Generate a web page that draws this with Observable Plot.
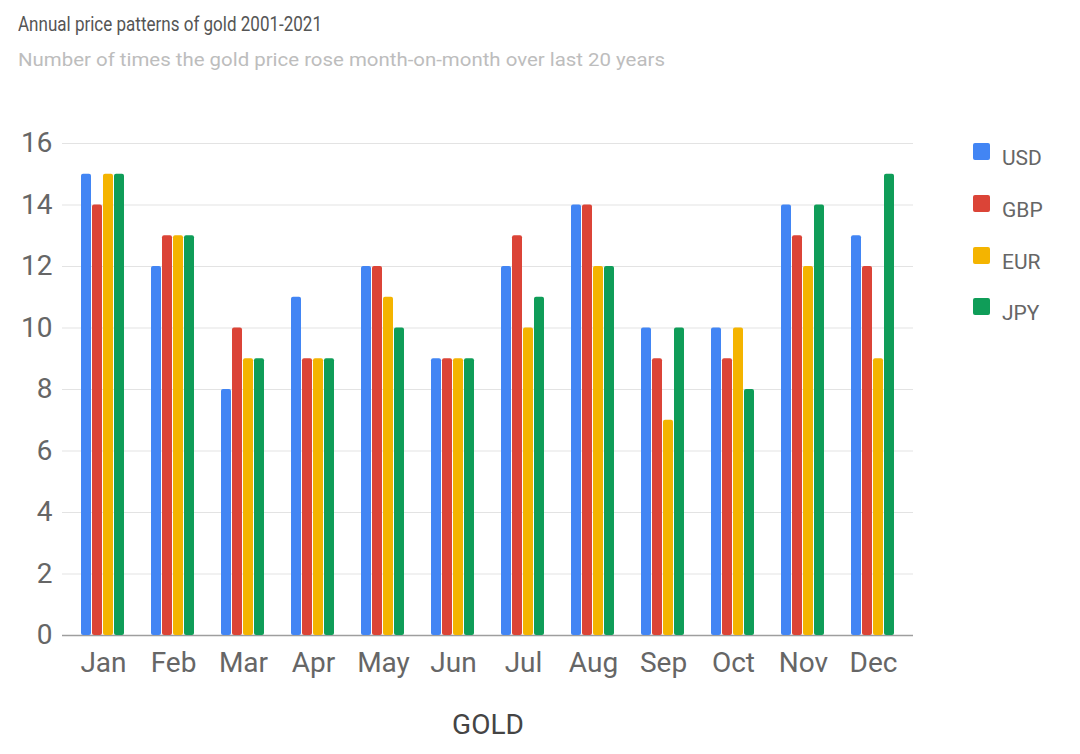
<!DOCTYPE html>
<html>
<head>
<meta charset="utf-8">
<script src="https://cdn.jsdelivr.net/npm/d3@7"></script>
<script src="https://cdn.jsdelivr.net/npm/@observablehq/plot@0.6"></script>
<style>
  html, body { margin: 0; padding: 0; background: #fff; }
  body { width: 1080px; height: 754px; position: relative; overflow: hidden; font-family: Roboto, "Noto Sans", sans-serif; }
  #title { position: absolute; left: 18px; top: 12px; font-size: 21px; color: #555; white-space: nowrap; transform-origin: 0 0; }
  #subtitle { position: absolute; left: 18px; top: 49px; font-size: 18px; color: #bdbdbd; white-space: nowrap; transform-origin: 0 0; }
  .layer { position: absolute; left: 0; top: 80px; }
  .layer svg { display: block; }
  #xlabel { position: absolute; left: 0; width: 976px; text-align: center; top: 708px; font-size: 28px; color: #444; }
  #legend { position: absolute; left: 973px; top: 0; }
  .li { position: absolute; left: 0; white-space: nowrap; }
  .sw { position: absolute; left: 0; top: 0; width: 17px; height: 17px; border-radius: 2px; }
  .lt { position: absolute; left: 29px; top: 5px; font-size: 21px; color: #666; line-height: 21px; }
</style>
</head>
<body>
<div id="title">Annual price patterns of gold 2001-2021</div>
<div id="subtitle">Number of times the gold price rose month-on-month over last 20 years</div>
<div id="grid" class="layer"></div>
<div id="bars" class="layer"></div>
<div id="xlabel">GOLD</div>
<div id="legend"></div>
<script>
const months = ["Jan","Feb","Mar","Apr","May","Jun","Jul","Aug","Sep","Oct","Nov","Dec"];
const currencies = ["USD","GBP","EUR","JPY"];
const colors = ["#4285F4","#DB4437","#F4B400","#0F9D58"];
const usd = [15,12,8,11,12,9,12,14,10,10,14,13];
const gbp = [14,13,10,9,12,9,13,14,9,9,13,12];
const eur = [15,13,9,9,11,9,10,12,7,10,12,9];
const jpy = [15,13,9,9,10,9,11,12,10,8,14,15];
const yTicks = [0,2,4,6,8,10,12,14,16];

const series = {USD: usd, GBP: gbp, EUR: eur, JPY: jpy};
const data = [];
months.forEach((m, i) => currencies.forEach(c => data.push({month: m, currency: c, value: series[c][i]})));

const common = {
  width: 1080,
  height: 674,
  marginTop: 63,
  marginBottom: 119,
  marginLeft: 62,
  marginRight: 167,
  style: {fontFamily: "Roboto, sans-serif", color: "#666", background: "transparent"},
  y: {domain: [0, 16], ticks: yTicks, label: null, axis: null}
};

// background layer: gridlines, y axis, baseline
const gridPlot = Plot.plot({
  ...common,
  marks: [
    Plot.ruleY(yTicks.filter(d => d > 0), {stroke: "#e3e3e3", strokeWidth: 1}),
    Plot.axisY({ticks: yTicks, tickSize: 0, tickPadding: 10, fontSize: 28, label: null}),
    Plot.ruleY([0], {stroke: "#9e9e9e", strokeWidth: 1.5})
  ]
});
document.getElementById("grid").appendChild(gridPlot);

// foreground layer: grouped bars
const barPlot = Plot.plot({
  ...common,
  fx: {domain: months, paddingInner: 0.373, paddingOuter: 0.22, label: null},
  x: {domain: currencies, paddingInner: 0.09, paddingOuter: 0, axis: null},
  color: {domain: currencies, range: colors},
  marks: [
    Plot.axisFx({anchor: "bottom", tickSize: 0, tickPadding: 17, fontSize: 28, label: null}),
    Plot.barY(data, {fx: "month", x: "currency", y: "value", fill: "currency", rx: 2})
  ]
});
document.getElementById("bars").appendChild(barPlot);

const legend = document.getElementById("legend");
const rowY = [143, 195, 247, 298];
currencies.forEach((c, i) => {
  const li = document.createElement("div");
  li.className = "li";
  li.style.top = rowY[i] + "px";
  li.innerHTML = `<div class="sw" style="background:${colors[i]}"></div><div class="lt">${c}</div>`;
  legend.appendChild(li);
});

// fit title widths to the reference
function fit(id, target) {
  const el = document.getElementById(id);
  const w = el.getBoundingClientRect().width;
  el.style.transform = `scaleX(${target / w})`;
}
fit("title", 304);
fit("subtitle", 647);
</script>
</body>
</html>
